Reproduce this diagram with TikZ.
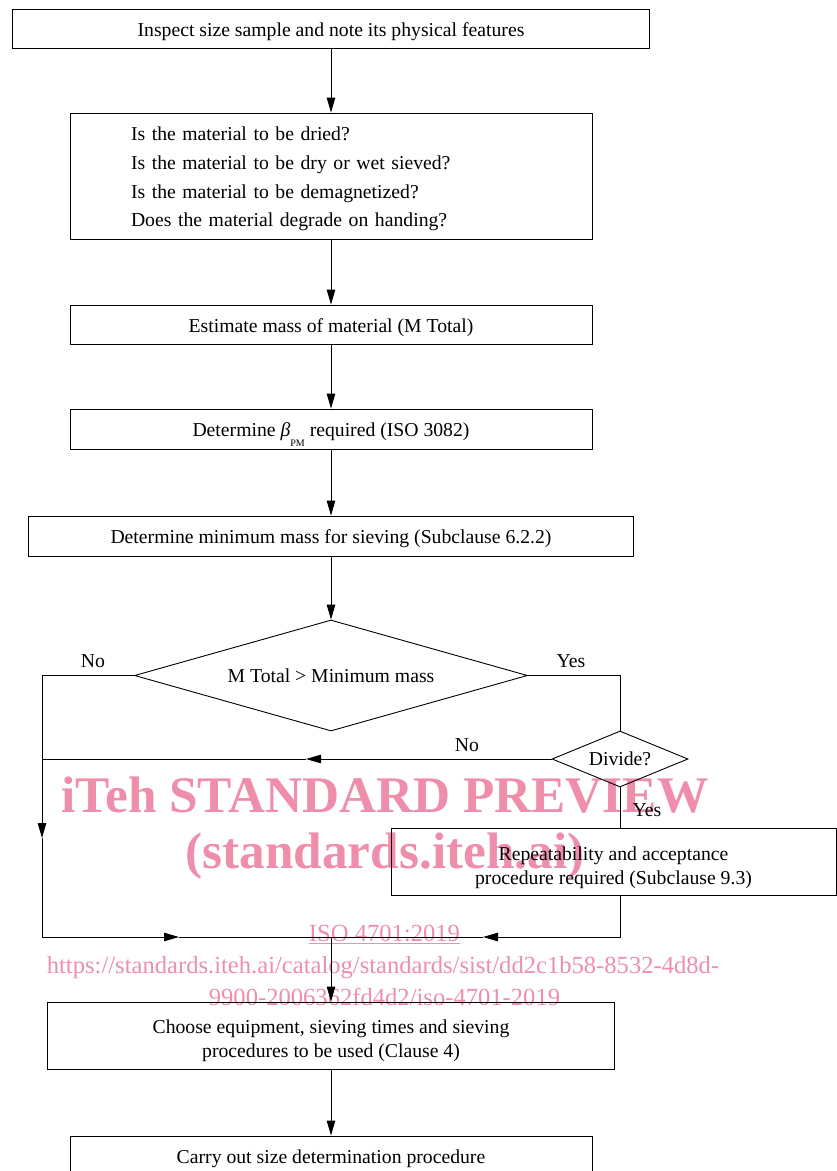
\documentclass[tikz,border=0pt]{standalone}
\usepackage{fontspec}
\setmainfont{Liberation Serif}
\usetikzlibrary{shapes.geometric,arrows.meta}
\definecolor{wm}{RGB}{238,142,171}
\newcommand{\lowr}[1]{\rule{0pt}{#1}}
\tikzset{
  box/.style={draw, line width=0.9pt, inner sep=0pt, align=center, font=\fontsize{19.7}{24.5}\selectfont},
  one/.style={box, text height=19.9pt, text depth=4.5pt},
  dec/.style={draw, diamond, line width=0.9pt, inner sep=0pt, font=\fontsize{19.7}{24.5}\selectfont},
  lbl/.style={font=\fontsize{19.7}{24.5}\selectfont, inner sep=0pt},
  conn/.style={line width=0.9pt},
  arr/.style={conn, -{Triangle[length=15pt,width=8.5pt]}},
  wmbig/.style={text=wm, font=\fontsize{51.3}{51}\selectfont\bfseries, inner sep=0pt, anchor=base},
  wmsmall/.style={text=wm, font=\fontsize{24.6}{25}\selectfont, inner sep=0pt, anchor=base}
}
\begin{document}
\begin{tikzpicture}[x=1pt,y=-1pt]
\useasboundingbox (0,0) rectangle (837,1171);
% watermark
\node[wmbig] (w1) at (385,812) {iTeh STANDARD PREVIEW};
\node[wmbig] (w2) at (385,868) {(standards.iteh.ai)};
\node[wmsmall] (w3) at (384.5,941) {\underline{ISO 4701:2019}};
\node[wmsmall] (w4) at (383,973) {https://standards.iteh.ai/catalog/standards/sist/dd2c1b58-8532-4d8d-};
\node[wmsmall] (w5) at (384.5,1005) {9900-2006362fd4d2/iso-4701-2019};
% boxes
\node[one, minimum width=637pt, minimum height=39pt] (b1) at (331,28.5) {Inspect size sample and note its physical features};
\node[box, minimum width=522pt, minimum height=126pt, text width=400pt, inner xsep=61pt, align=left,
      font=\fontsize{19.7}{28.7}\selectfont] (b2) at (331,176)
  {\lowr{20pt}Is the material to be dried?\\Is the material to be dry or wet sieved?\\Is the material to be demagnetized?\\Does the material degrade on handing?};
\node[one, minimum width=522pt, minimum height=39pt] (b3) at (331,324.5) {Estimate mass of material (M Total)};
\node[one, minimum width=522pt, minimum height=40pt] (b4) at (331,429) {Determine {\itshape β}\raisebox{-1.1ex}{\fontsize{10}{10}\selectfont PM} required (ISO 3082)};
\node[one, minimum width=605pt, minimum height=40pt] (b5) at (331,536) {Determine minimum mass for sieving (Subclause 6.2.2)};
\node[dec, minimum width=393pt, minimum height=111pt, aspect=3.54] (d1) at (331,675.5) {M Total > Minimum mass};
\node[dec, minimum width=136pt, minimum height=56pt, aspect=2.43] (d2) at (620,759) {Divide?};
\node[box, minimum width=445pt, minimum height=67pt] (b6) at (613.5,861.5) {\lowr{26pt}Repeatability and acceptance\\procedure required (Subclause 9.3)};
\node[box, minimum width=567pt, minimum height=67pt] (b7) at (331,1035.5) {\lowr{24pt}Choose equipment, sieving times and sieving\\procedures to be used (Clause 4)};
\node[one, minimum width=522pt, minimum height=39pt] (b8) at (331,1155.5) {Carry out size determination procedure};
% labels
\node[lbl] (l1) at (93,661) {No};
\node[lbl] (l2) at (571,661) {Yes};
\node[lbl] (l3) at (467,745) {No};
\node[lbl] (l4) at (647,810) {Yes};
% coordinates
\coordinate (la) at (42,838);
\coordinate (lb) at (42,937);
\coordinate (ma) at (179,937);
\coordinate (m) at (331,937);
\coordinate (mb) at (483,937);
\coordinate (rb) at (620,937);
\coordinate (na) at (306,759);
\coordinate (nl) at (42,759);
\coordinate (yr) at (620,675.5);
% connectors
\draw[arr] (b1) -- (b2);
\draw[arr] (b2) -- (b3);
\draw[arr] (b3) -- (b4);
\draw[arr] (b4) -- (b5);
\draw[arr] (b5.south) -- (d1.north);
\draw[arr] (d1.west) -| (la);
\draw[arr] (la) -- (lb) -- (ma);
\draw[conn] (ma) -- (m);
\draw[conn] (d1.east) -- (yr) -- (d2.north);
\draw[arr] (d2.west) -- (na);
\draw[conn] (na) -- (nl);
\draw[conn] (d2.south) -- (d2.south |- b6.north);
\draw[arr] (d2.south |- b6.south) -- (rb) -- (mb);
\draw[conn] (mb) -- (m);
\draw[arr] (m) -- (b7.north);
\draw[arr] (b7) -- (b8);
\end{tikzpicture}
\end{document}
